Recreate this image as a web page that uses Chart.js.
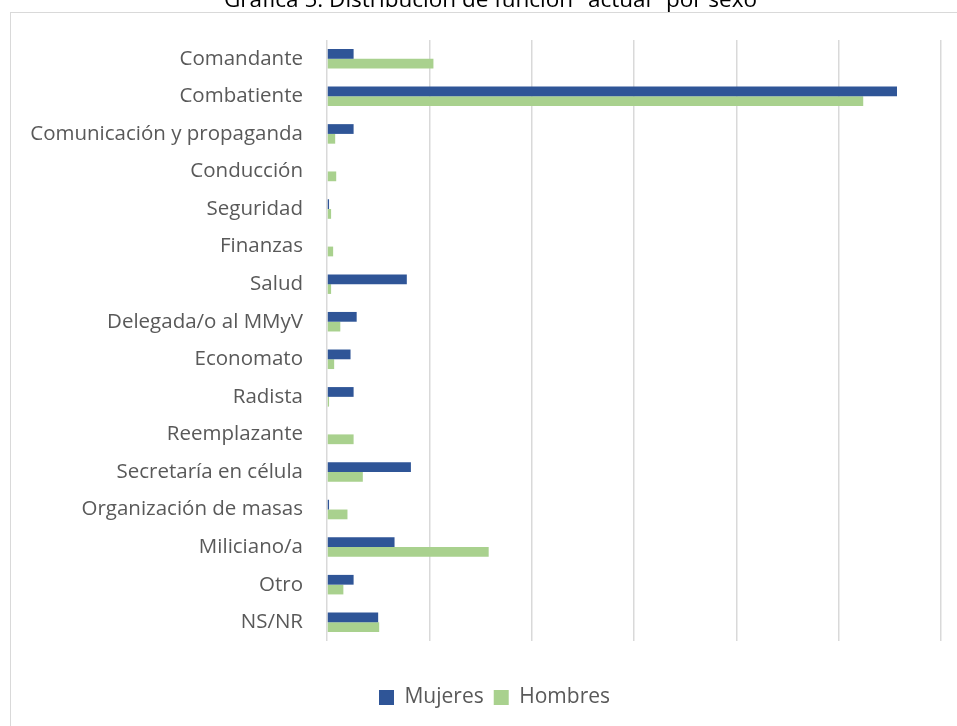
<meta charset="UTF-8">
<html>
<head>
<title>Gráfica 5</title>
<script src="https://cdn.jsdelivr.net/npm/chart.js@4.4.1/dist/chart.umd.min.js"></script>
<style>
    body { margin: 0; background: #ffffff; overflow: hidden; }
    .frame {
        position: absolute;
        left: 10px; top: 12px;
        width: 980px; height: 760px;
        border: 1.5px solid #d9d9d9;
        box-sizing: border-box;
    }
    #chartCanvas {
        position: absolute;
        left: 0; top: -8px;
    }
</style>
</head>
<body>
<div class="frame"></div>
<canvas id="chartCanvas" width="957" height="734"></canvas>

<script>
    // categories (funcion actual)
    var funciones = [
        'Comandante', 'Combatiente', 'Comunicación y propaganda', 'Conducción',
        'Seguridad', 'Finanzas', 'Salud', 'Delegada/o al MMyV', 'Economato',
        'Radista', 'Reemplazante', 'Secretaría en célula', 'Organización de masas',
        'Miliciano/a', 'Otro', 'NS/NR'
    ];

    // percentages
    var mujeres = [2.6, 55.7, 2.6, 0, 0.2, 0, 7.8, 2.9, 2.3, 2.6, 0, 8.2, 0.2, 6.6, 2.6, 5.0];
    var hombres = [10.4, 52.4, 0.8, 0.9, 0.4, 0.6, 0.4, 1.3, 0.7, 0.2, 2.6, 3.5, 2.0, 15.8, 1.6, 5.1];

    var titulo = 'Gráfica 5. Distribución de función "actual" por sexo';
    var FONT = "'Open Sans', sans-serif";

    // title and legend sit a bit right of the canvas centre in the original
    var shiftBoxes = {
        id: 'shiftBoxes',
        afterLayout: function(c) {
            c.titleBlock.left += 20; c.titleBlock.right += 20;
            c.legend.left += 24; c.legend.right += 24;
        }
    };

    var chart = new Chart(document.getElementById('chartCanvas'), {
        type: 'bar',
        data: {
            labels: funciones,
            datasets: [
                { label: 'Mujeres', data: mujeres, backgroundColor: '#2f5597',
                  barPercentage: 1, categoryPercentage: 0.52 },
                { label: 'Hombres', data: hombres, backgroundColor: '#a9d18e',
                  barPercentage: 1, categoryPercentage: 0.52 }
            ]
        },
        plugins: [shiftBoxes],
        options: {
            indexAxis: 'y',
            responsive: false,
            animation: false,
            devicePixelRatio: 1,
            layout: { padding: { left: 0, right: 16, top: 0, bottom: 8 } },
            plugins: {
                title: {
                    display: true,
                    text: titulo,
                    color: '#000000',
                    font: { family: FONT, size: 22.5, weight: 'normal' },
                    padding: { top: -5, bottom: 26 }
                },
                legend: {
                    position: 'bottom',
                    labels: {
                        boxWidth: 15, boxHeight: 15, padding: 10,
                        color: '#595959',
                        font: { family: FONT, size: 21 }
                    }
                },
                tooltip: { enabled: false }
            },
            scales: {
                x: {
                    min: 0, max: 60,
                    ticks: { display: false, stepSize: 10 },
                    grid: { color: '#d9d9d9', lineWidth: 1.5, drawTicks: false },
                    border: { display: false },
                    afterFit: function(s) { s.height = 36; }
                },
                y: {
                    grid: { display: false },
                    border: { display: false },
                    ticks: {
                        color: '#595959',
                        padding: 16,
                        font: { family: FONT, size: 20.5 }
                    },
                    afterFit: function(s) { s.width = 327; }
                }
            }
        }
    });
</script>
</body>
</html>
